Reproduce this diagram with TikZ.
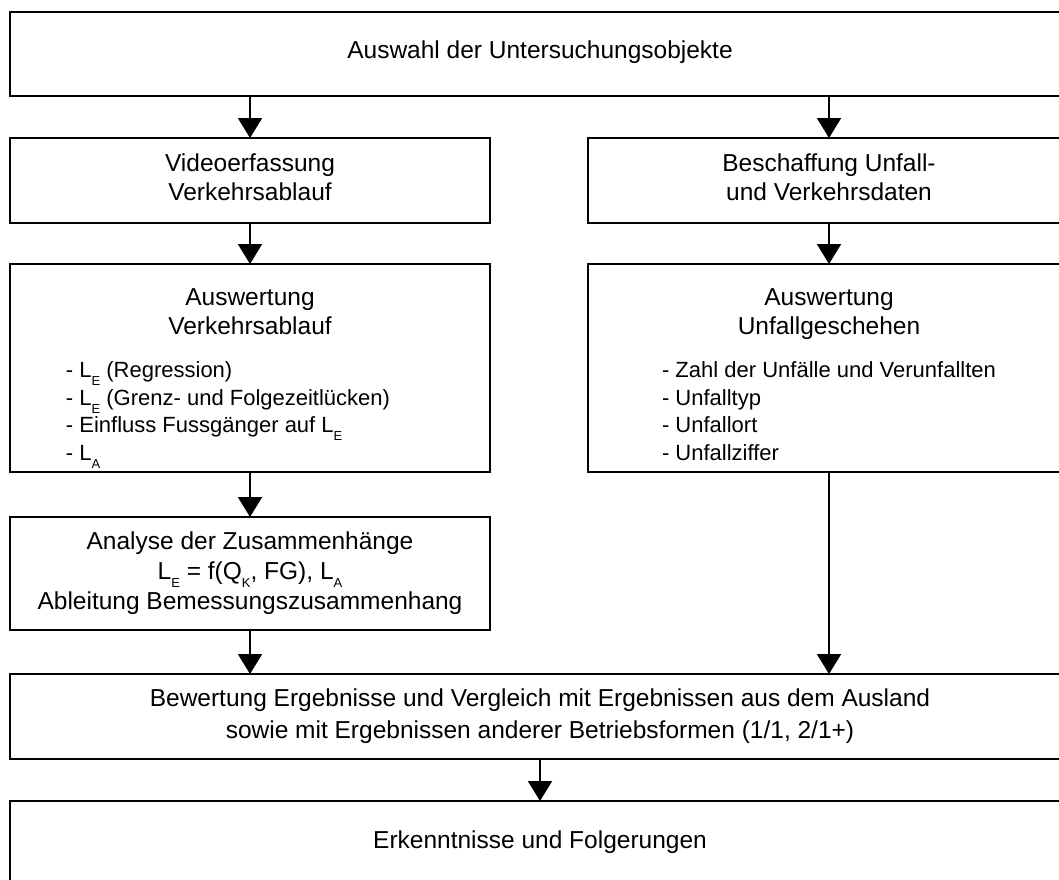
\documentclass[tikz,border=0pt]{standalone}
\usepackage{fontspec}
\setmainfont{Liberation Sans}
\usetikzlibrary{positioning,arrows.meta}
\newcommand{\idx}[1]{\raisebox{-8pt}{\fontsize{13}{13}\selectfont #1}}
\newcommand{\listfont}{\fontsize{22}{27.5}\selectfont}

\begin{document}
\begin{tikzpicture}[box/.style={draw,line width=2pt,align=center,inner sep=0pt,outer sep=0pt,font=\fontsize{24.5}{29}\selectfont},
						wide/.style={box,minimum width=1060pt},
						half/.style={box,minimum width=480pt},
						arrow/.style={line width=2pt,-{Triangle[width=24pt,length=20pt]}}]
		\useasboundingbox (0,0) rectangle (1059pt,-879pt);

		\node[wide,minimum height=84pt,anchor=north west]										(auswahl)		at (10pt,-12pt) {Auswahl der Untersuchungsobjekte\rule[-9pt]{0pt}{0pt}};
		\node[half,minimum height=85pt,below right=42pt and 0pt of auswahl.south west]			(video)			{Videoerfassung\\Verkehrsablauf\rule[-6pt]{0pt}{0pt}};
		\node[box,minimum width=482pt,minimum height=85pt,right=98pt of video]					(beschaffung)	{Beschaffung Unfall-\\und Verkehrsdaten\rule[-6pt]{0pt}{0pt}};
		\node[half,minimum height=208pt,node distance=41pt,below=of video]						(auswverk)		{\rule{0pt}{38pt}Auswertung\\Verkehrsablauf\\[14pt]
			\hspace*{-44pt}{\listfont\begin{tabular}[t]{@{}l@{}}- L\idx{E} (Regression)\\- L\idx{E} (Grenz- und Folgezeitlücken)\\- Einfluss Fussgänger auf L\idx{E}\\- L\idx{A}\end{tabular}}};
		\node[box,minimum width=482pt,minimum height=208pt,node distance=41pt,below=of beschaffung]	(auswunf)	{\rule{0pt}{38pt}Auswertung\\Unfallgeschehen\\[14pt]
			{\listfont\begin{tabular}[t]{@{}l@{}}- Zahl der Unfälle und Verunfallten\\- Unfalltyp\\- Unfallort\\- Unfallziffer\end{tabular}}};
		\node[half,minimum height=113pt,node distance=45pt,below=of auswverk]					(analyse)		{Analyse der Zusammenhänge\\[1pt]L\idx{E} = f(Q\idx{K}, FG), L\idx{A}\\[1pt]Ableitung Bemessungszusammenhang};
		\node[wide,minimum height=85pt,below right=44pt and 0pt of analyse.south west]			(bewertung)		{Bewertung Ergebnisse und Vergleich mit Ergebnissen aus dem Ausland\\[3pt]sowie mit Ergebnissen anderer Betriebsformen (1/1, 2/1+)};
		\node[wide,minimum height=82pt,node distance=42pt,below=of bewertung]					(erkenntnis)	{Erkenntnisse und Folgerungen};

		\draw[arrow] (auswahl.south -| video.north) -- (video.north);
		\draw[arrow] (auswahl.south -| beschaffung.north) -- (beschaffung.north);
		\draw[arrow] (video) -- (auswverk);
		\draw[arrow] (beschaffung) -- (auswunf);
		\draw[arrow] (auswverk) -- (analyse);
		\draw[arrow] (analyse.south) -- (bewertung.north -| analyse.south);
		\draw[arrow] (auswunf.south) -- (bewertung.north -| auswunf.south);
		\draw[arrow] (bewertung) -- (erkenntnis);
	\end{tikzpicture}
\end{document}
